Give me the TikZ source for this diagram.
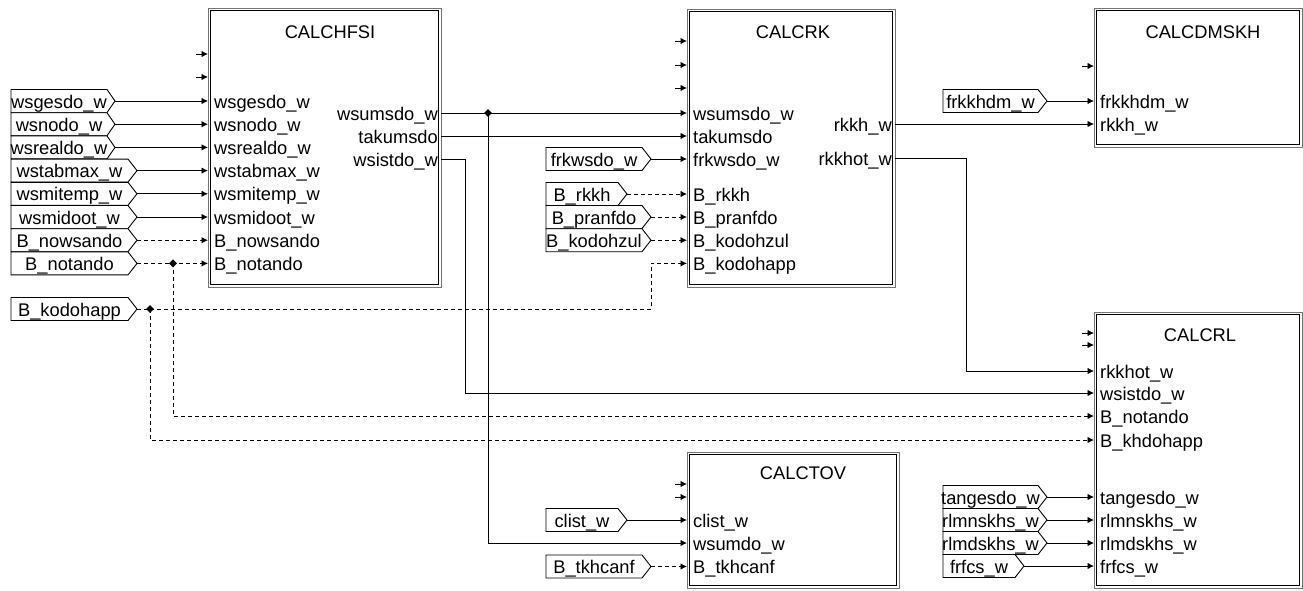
\documentclass[tikz,border=0pt]{standalone}
\usepackage{fontspec}
\setmainfont{Liberation Sans}
\usetikzlibrary{arrows.meta,shapes.geometric}
\newcommand\sfz{\fontsize{18.3}{20}\selectfont}
\tikzset{
  sig/.style={line width=0.9pt, -{Latex[length=6.5pt,width=6.5pt]}},
  bsig/.style={sig, dash pattern=on 4pt off 3pt},
  wire/.style={line width=0.9pt},
  bwire/.style={wire, dash pattern=on 4pt off 3pt},
  plab/.style={anchor=base west, inner sep=0, font=\sfz},
  olab/.style={anchor=base east, inner sep=0, font=\sfz},
  ttl/.style={anchor=base, inner sep=0, font=\sfz},
  tagbox/.style={draw, line width=0.9pt, fill=white},
  jdot/.style={diamond, fill=black, inner sep=0, minimum size=8pt},
  outerframe/.style={draw=black!55, line width=1pt, inner sep=0},
  innerframe/.style={draw=black, line width=1pt},
}
% block: name x1 y1 x2 y2
\newcommand\blk[5]{%
  \node[outerframe, minimum width={#4-#2}, minimum height={#5-#3}] (#1) at ({(#2+#4)/2},{(#3+#5)/2}) {};
  \draw[innerframe] (#2+2.5,#3+2.5) rectangle (#4-2.5,#5-2.5);}
% input port: name x y label
\newcommand\inport[4]{%
  \coordinate (#1) at (#2,#3);
  \node[plab] (#1-l) at (#2+6,#3+7) {#4};}
% output port: name x y label
\newcommand\outport[4]{%
  \coordinate (#1) at (#2,#3);
  \node[olab] (#1-l) at (#2-3,#3+7) {#4};}
% empty stub: name x y
\newcommand\stub[3]{%
  \coordinate (#1a) at (#2-12,#3);
  \coordinate (#1) at (#2,#3);
  \draw[sig] (#1a) -- (#1);}
% signal tag: name L R P y text
\newcommand\sigtag[6]{%
  \draw[tagbox] (#2,#5-11.5) -- (#3,#5-11.5) -- (#4,#5) -- (#3,#5+11.5) -- (#2,#5+11.5) -- cycle;
  \node[ttl] (#1) at ({(#2+#3)/2},#5+7) {#6};
  \coordinate (#1-tip) at (#4,#5);}
\begin{document}
\begin{tikzpicture}[x=1pt,y=-1pt]
\useasboundingbox (0,0) rectangle (1303,590);

% ---------------- CALCHFSI
\blk{hf}{208}{8}{441}{287}
\node[ttl] (hf-t) at (330,38.5) {CALCHFSI};
\stub{hf-s1}{208}{54}
\stub{hf-s2}{208}{77}
\inport{hf-i1}{208}{101}{wsgesdo\_w}
\inport{hf-i2}{208}{124.2}{wsnodo\_w}
\inport{hf-i3}{208}{147.4}{wsrealdo\_w}
\inport{hf-i4}{208}{170.6}{wstabmax\_w}
\inport{hf-i5}{208}{193.8}{wsmitemp\_w}
\inport{hf-i6}{208}{217}{wsmidoot\_w}
\inport{hf-i7}{208}{240.2}{B\_nowsando}
\inport{hf-i8}{208}{263.4}{B\_notando}
\outport{hf-o1}{441}{113}{wsumsdo\_w}
\outport{hf-o2}{441}{136}{takumsdo}
\outport{hf-o3}{441}{159}{wsistdo\_w}

% ---------------- CALCRK
\blk{rk}{687}{9}{895}{287}
\node[ttl] (rk-t) at (793,38.5) {CALCRK};
\stub{rk-s1}{687}{41}
\stub{rk-s2}{687}{65}
\stub{rk-s3}{687}{88}
\inport{rk-i1}{687}{113}{wsumsdo\_w}
\inport{rk-i2}{687}{136}{takumsdo}
\inport{rk-i3}{687}{159}{frkwsdo\_w}
\inport{rk-i4}{687}{194}{B\_rkkh}
\inport{rk-i5}{687}{217}{B\_pranfdo}
\inport{rk-i6}{687}{240.2}{B\_kodohzul}
\inport{rk-i7}{687}{263.4}{B\_kodohapp}
\outport{rk-o1}{895}{124}{rkkh\_w}
\outport{rk-o2}{895}{158}{rkkhot\_w}

% ---------------- CALCDMSKH
\blk{dm}{1094}{8}{1302}{147}
\node[ttl] (dm-t) at (1203,38.5) {CALCDMSKH};
\stub{dm-s1}{1094}{66}
\inport{dm-i1}{1094}{101}{frkkhdm\_w}
\inport{dm-i2}{1094}{124}{rkkh\_w}

% ---------------- CALCRL
\blk{rl}{1094}{312}{1302}{588}
\node[ttl] (rl-t) at (1200,341.5) {CALCRL};
\stub{rl-s1}{1094}{333}
\stub{rl-s2}{1094}{345}
\inport{rl-i1}{1094}{371}{rkkhot\_w}
\inport{rl-i2}{1094}{393}{wsistdo\_w}
\inport{rl-i3}{1094}{416}{B\_notando}
\inport{rl-i4}{1094}{440}{B\_khdohapp}
\inport{rl-i5}{1094}{497}{tangesdo\_w}
\inport{rl-i6}{1094}{520}{rlmnskhs\_w}
\inport{rl-i7}{1094}{543}{rlmdskhs\_w}
\inport{rl-i8}{1094}{566}{frfcs\_w}

% ---------------- CALCTOV
\blk{tv}{687}{452}{899}{588}
\node[ttl] (tv-t) at (803,479.5) {CALCTOV};
\stub{tv-s1}{687}{484}
\stub{tv-s2}{687}{497}
\inport{tv-i1}{687}{520}{clist\_w}
\inport{tv-i2}{687}{543}{wsumdo\_w}
\inport{tv-i3}{687}{566.5}{B\_tkhcanf}

% ---------------- tags
\sigtag{t1}{11}{107}{115}{101}{wsgesdo\_w}
\sigtag{t2}{11}{107}{115}{124.2}{wsnodo\_w}
\sigtag{t3}{11}{107}{115}{147.4}{wsrealdo\_w}
\sigtag{t4}{11}{128}{137}{170.6}{wstabmax\_w}
\sigtag{t5}{11}{128}{137}{193.8}{wsmitemp\_w}
\sigtag{t6}{11}{128}{137}{217}{wsmidoot\_w}
\sigtag{t7}{11}{128}{137}{240.2}{B\_nowsando}
\sigtag{t8}{11}{128}{137}{263.4}{B\_notando}
\sigtag{t9}{11}{128}{137}{309}{B\_kodohapp}
\sigtag{t10}{546}{642}{651}{159}{frkwsdo\_w}
\sigtag{t11}{546}{618}{627}{194}{B\_rkkh}
\sigtag{t12}{546}{642}{651}{217}{B\_pranfdo}
\sigtag{t13}{546}{642}{651}{240.2}{B\_kodohzul}
\sigtag{t14}{943}{1038}{1047}{101}{frkkhdm\_w}
\sigtag{t15}{943}{1038}{1047}{497}{tangesdo\_w}
\sigtag{t16}{943}{1038}{1047}{520}{rlmnskhs\_w}
\sigtag{t17}{943}{1038}{1047}{543}{rlmdskhs\_w}
\sigtag{t18}{943}{1015}{1024}{566}{frfcs\_w}
\sigtag{t19}{546}{618}{627}{520}{clist\_w}
\sigtag{t20}{546}{642}{651}{566.5}{B\_tkhcanf}

% ---------------- connectors
\draw[sig] (t1-tip) -- (hf-i1);
\draw[sig] (t2-tip) -- (hf-i2);
\draw[sig] (t3-tip) -- (hf-i3);
\draw[sig] (t4-tip) -- (hf-i4);
\draw[sig] (t5-tip) -- (hf-i5);
\draw[sig] (t6-tip) -- (hf-i6);
\draw[bsig] (t7-tip) -- (hf-i7);
\draw[bsig] (t8-tip) -- (hf-i8);

\coordinate (j1) at (173,263.4);
\draw[bsig] (j1) |- (rl-i3);

\coordinate (j2) at (150,309);
\coordinate (c1) at (651,309);
\draw[bwire] (t9-tip) -- (j2);
\draw[bsig] (j2) -- (c1) |- (rk-i7);
\draw[bsig] (j2) |- (rl-i4);

\draw[sig] (hf-o1) -- (rk-i1);
\coordinate (j3) at (488,113);
\draw[sig] (j3) |- (tv-i2);
\draw[sig] (hf-o2) -- (rk-i2);
\coordinate (c2) at (465,159);
\draw[sig] (hf-o3) -- (c2) |- (rl-i2);

\draw[sig] (t10-tip) -- (rk-i3);
\draw[bsig] (t11-tip) -- (rk-i4);
\draw[bsig] (t12-tip) -- (rk-i5);
\draw[bsig] (t13-tip) -- (rk-i6);

\draw[sig] (rk-o1) -- (dm-i2);
\coordinate (c3) at (966,158);
\draw[sig] (rk-o2) -- (c3) |- (rl-i1);
\draw[sig] (t14-tip) -- (dm-i1);

\draw[sig] (t15-tip) -- (rl-i5);
\draw[sig] (t16-tip) -- (rl-i6);
\draw[sig] (t17-tip) -- (rl-i7);
\draw[sig] (t18-tip) -- (rl-i8);

\draw[sig] (t19-tip) -- (tv-i1);
\draw[bsig] (t20-tip) -- (tv-i3);

% junction dots
\node[jdot] (d1) at (j1) {};
\node[jdot] (d2) at (j2) {};
\node[jdot] (d3) at (j3) {};
\end{tikzpicture}
\end{document}
